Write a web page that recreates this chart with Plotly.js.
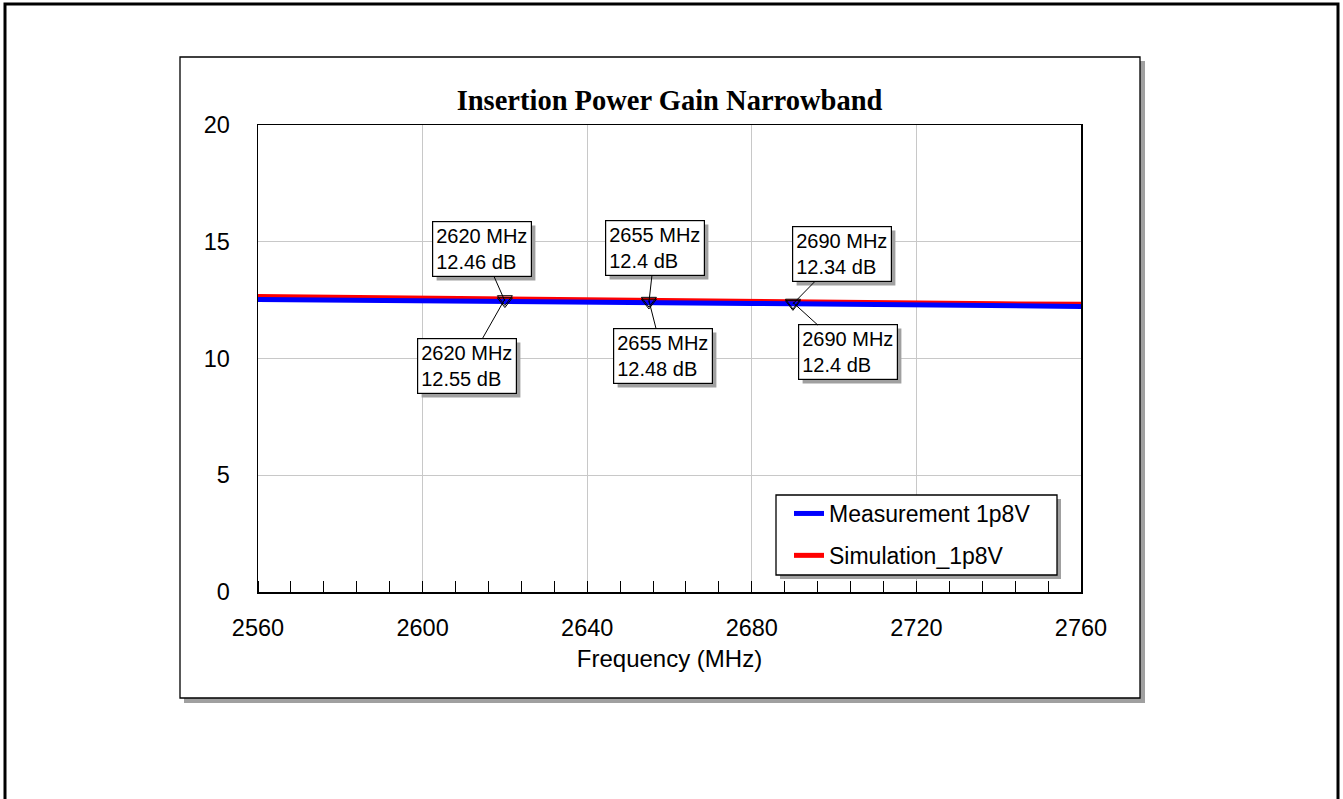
<!DOCTYPE html>
<html>
<head>
<meta charset="utf-8">
<script src="https://cdn.plot.ly/plotly-3.0.1.min.js"></script>
<style>
  html, body { margin: 0; padding: 0; background: #fff; }
  #chart { width: 1343px; height: 799px; }
</style>
</head>
<body>
<div id="chart"></div>
<script>
// Frequency points (MHz)
let freq = [2560, 2580, 2600, 2620, 2640, 2655, 2660, 2680, 2690, 2700, 2720, 2740, 2760];

// Insertion power gain (dB)
let measurement = [12.53, 12.51, 12.49, 12.46, 12.43, 12.40, 12.39, 12.36, 12.34, 12.32, 12.29, 12.26, 12.23];
let simulation  = [12.66, 12.62, 12.59, 12.55, 12.51, 12.48, 12.47, 12.43, 12.40, 12.39, 12.36, 12.34, 12.32];

// Marker readouts
let markerFreq = [2620, 2655, 2690];
let markerMeas = [12.46, 12.4, 12.34];
let markerSim  = [12.55, 12.48, 12.4];

let xTicks = [2560, 2600, 2640, 2680, 2720, 2760];
let yTicks = [0, 5, 10, 15, 20];

// plot area in page pixels
let plotL = 258, plotR = 1081, plotT = 125, plotB = 592;
let W = 1343, H = 799;

function px(x) { return (x - plotL) / (plotR - plotL); }
function py(y) { return (plotB - y) / (plotB - plotT); }

let font = "Liberation Sans, Arial, sans-serif";
let shadowColor = "#a0a0a0";

let traceSim = {
  x: freq, y: simulation,
  type: "scatter", mode: "lines",
  name: "Simulation_1p8V",
  line: { color: "#ff0000", width: 5 },
  legendrank: 2, legendgroup: "b"
};

let traceMeas = {
  x: freq, y: measurement,
  type: "scatter", mode: "lines",
  name: "Measurement 1p8V",
  line: { color: "#0000ff", width: 5 },
  legendrank: 1, legendgroup: "a"
};

let traceMarkers = {
  x: markerFreq.concat(markerFreq),
  y: markerMeas.concat(markerSim),
  type: "scatter", mode: "markers",
  marker: { symbol: "triangle-down-open", size: 13, color: "#000", line: { width: 1, color: "#000" } },
  showlegend: false,
  hoverinfo: "skip"
};

// label box offsets [ax, ay] from the marker
let offsMeas = [[-23, -52], [6, -54], [49, -50]];
let offsSim = [[-38, 67], [14, 55], [55, 50]];

let annotations = [];
function addLabel(f, v, ax, ay) {
  annotations.push({
    x: f, y: v, ax: ax, ay: ay,
    text: f + " MHz<br>" + v + " dB",
    showarrow: true, arrowcolor: "#000", arrowwidth: 1, arrowhead: 0, standoff: 0,
    bgcolor: "#fff", bordercolor: "#000", borderwidth: 1.2, borderpad: 3,
    font: { family: font, size: 20, color: "#000" }, align: "left"
  });
}
markerFreq.forEach((f, i) => addLabel(f, markerMeas[i], offsMeas[i][0], offsMeas[i][1]));
markerFreq.forEach((f, i) => addLabel(f, markerSim[i], offsSim[i][0], offsSim[i][1]));

function pixRect(x0, y0, x1, y1, fill, lineColor, layer) {
  return {
    type: "rect", xref: "paper", yref: "paper", layer: layer,
    x0: px(x0), x1: px(x1), y0: py(y1), y1: py(y0),
    line: lineColor ? { color: lineColor, width: 1.3 } : { width: 0 },
    fillcolor: fill
  };
}

let shapes = [
  // outer frame
  { type: "rect", xref: "paper", yref: "paper", layer: "below",
    x0: px(5), x1: px(1338), y0: py(812), y1: py(4),
    line: { color: "#000", width: 3 }, fillcolor: "rgba(0,0,0,0)" },
  // panel + shadow
  pixRect(184, 61, 1145, 703, shadowColor, null, "below"),
  pixRect(180, 57, 1140, 698, "#fff", "#000", "below"),
  // legend box + shadow
  pixRect(780, 499, 1061, 579, shadowColor, null, "above"),
  pixRect(776, 495, 1057, 575, "#fff", "#000", "above")
];

let data = [traceSim, traceMeas, traceMarkers];

let layout = {
  width: W, height: H,
  margin: { l: plotL, r: W - plotR, t: plotT, b: H - plotB, pad: 0 },
  paper_bgcolor: "#fff",
  plot_bgcolor: "rgba(0,0,0,0)",
  font: { family: font, color: "#000" },
  title: {
    text: "<b>Insertion Power Gain Narrowband</b>",
    font: { family: "Liberation Serif, Times New Roman, serif", size: 28.5, color: "#000" },
    x: 0.5, xref: "paper", xanchor: "center",
    y: 1 - 100 / H, yref: "container", yanchor: "middle"
  },
  xaxis: {
    range: [2560, 2760],
    tickvals: xTicks,
    ticks: "",
    ticklabelstandoff: 14,
    tickfont: { family: font, size: 23.5 },
    showgrid: true, gridcolor: "#c8c8c8", gridwidth: 1,
    zeroline: false,
    showline: true, linecolor: "#000", linewidth: 1.5, mirror: true,
    minor: { dtick: 8, ticks: "inside", ticklen: 11, tickcolor: "#000", tickwidth: 1, showgrid: false },
    title: { text: "Frequency (MHz)", font: { family: font, size: 24 }, standoff: 10 }
  },
  yaxis: {
    range: [0, 20],
    tickvals: yTicks,
    ticks: "",
    ticklabelstandoff: 22,
    tickfont: { family: font, size: 23.5 },
    showgrid: true, gridcolor: "#c8c8c8", gridwidth: 1,
    zeroline: false,
    showline: true, linecolor: "#000", linewidth: 1.5, mirror: true
  },
  legend: {
    x: px(789), y: py(492), xanchor: "left", yanchor: "top",
    bgcolor: "rgba(0,0,0,0)", borderwidth: 0,
    font: { family: font, size: 23, color: "#000" },
    traceorder: "grouped", tracegroupgap: 9,
    itemwidth: 30
  },
  shapes: shapes,
  annotations: annotations
};

Plotly.newPlot("chart", data, layout, { displayModeBar: false, staticPlot: true }).then(function (gd) {
  // drop shadows behind the readout boxes, sized from the drawn boxes
  let box = gd.getBoundingClientRect();
  let extra = [];
  gd.querySelectorAll(".annotation rect.bg").forEach(function (r) {
    let b = r.getBoundingClientRect();
    extra.push(pixRect(b.left - box.left + 4, b.top - box.top + 4,
                       b.right - box.left + 4, b.bottom - box.top + 4, shadowColor, null, "above"));
  });
  Plotly.relayout(gd, { shapes: shapes.concat(extra) });
});
</script>
</body>
</html>
